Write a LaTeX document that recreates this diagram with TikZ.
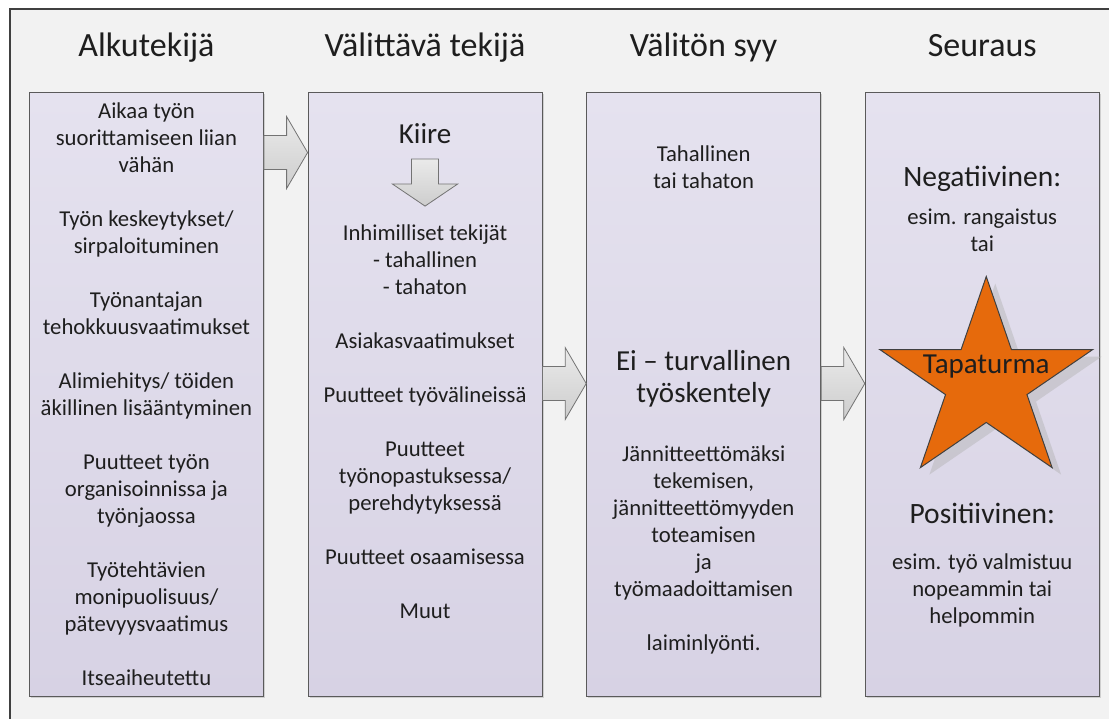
\documentclass[tikz,border=0pt]{standalone}
\usepackage{fontspec}
\setmainfont{Carlito}
\usetikzlibrary{positioning,calc,shadows}
\definecolor{ink}{RGB}{30,30,30}
\definecolor{frameline}{RGB}{64,64,64}
\definecolor{framefill}{RGB}{242,242,242}
\definecolor{paneltop}{RGB}{229,226,239}
\definecolor{panelbot}{RGB}{215,210,228}
\definecolor{panelline}{RGB}{90,90,90}
\definecolor{arrowtop}{RGB}{234,234,234}
\definecolor{arrowbot}{RGB}{205,205,205}
\definecolor{arrowline}{RGB}{115,115,115}
\definecolor{tapa}{RGB}{230,106,12}
\tikzset{
  every picture/.style={x=1pt, y=1pt, color=ink},
  node distance=43.7pt,
  panel/.style={draw=panelline, line width=0.9pt, top color=paneltop, bottom color=panelbot,
    minimum width=234pt, minimum height=604pt, inner sep=0pt,
    drop shadow={shadow xshift=1.5pt, shadow yshift=-1.5pt, opacity=0.3}},
  head/.style={font=\fontsize{34}{40}\selectfont, anchor=base, inner sep=0pt},
  body/.style={font=\fontsize{22.7}{27}\selectfont, align=center, inner sep=0pt},
  big/.style={font=\fontsize{29}{32}\selectfont, align=center, inner sep=0pt},
  sign/.style={font=\fontsize{29.5}{34}\selectfont, inner sep=0pt},
  barrow/.style={draw=arrowline, line width=0.8pt, top color=arrowtop, bottom color=arrowbot, line join=miter},
  starfill/.style={fill=tapa, draw=frameline, line width=1pt, line join=miter},
  starshade/.style={fill=black!30, opacity=0.45},
}
% block arrow pointing right: tail, tip
\newcommand{\rightblock}[2]{%
  \draw[barrow] let \p1=(#1), \p2=(#2) in
    (\x1,\y1+17pt) -- (\x2-21pt,\y1+17pt) -- (\x2-21pt,\y1+36pt) -- (\x2,\y1)
    -- (\x2-21pt,\y1-36pt) -- (\x2-21pt,\y1-17pt) -- (\x1,\y1-17pt) -- cycle;}
% block arrow pointing down: tail, tip
\newcommand{\downblock}[2]{%
  \draw[barrow] let \p1=(#1), \p2=(#2) in
    (\x1-13.5pt,\y1) -- (\x1-13.5pt,\y2+22pt) -- (\x1-32.5pt,\y2+22pt) -- (\x1,\y2)
    -- (\x1+32.5pt,\y2+22pt) -- (\x1+13.5pt,\y2+22pt) -- (\x1+13.5pt,\y1) -- cycle;}
\newcommand{\starpoints}{(90:112 and 105.6) -- (126:42.8 and 40.3) -- (162:112 and 105.6)
  -- (198:42.8 and 40.3) -- (234:112 and 105.6) -- (270:42.8 and 40.3) -- (306:112 and 105.6)
  -- (342:42.8 and 40.3) -- (18:112 and 105.6) -- (54:42.8 and 40.3) -- cycle}

\begin{document}
\begin{tikzpicture}
  \useasboundingbox (0,0) rectangle (1109,718);
  \clip (0,0) rectangle (1109,718);
  \draw[frameline, line width=2pt, fill=framefill] (10,-30) rectangle (1140,709);

  % four columns
  \node[panel, anchor=south west] (alku) at (29,21) {};
  \node[panel, right=of alku] (valit) {};
  \node[panel, right=of valit] (syy) {};
  \node[panel, right=of syy] (seur) {};

  \node[head] (h-alku) at ($(alku.north)+(0,36)$) {Alkutekijä};
  \node[head] (h-valit) at ($(valit.north)+(0,36)$) {Välittävä tekijä};
  \node[head] (h-syy) at ($(syy.north)+(0,36)$) {Välitön syy};
  \node[head] (h-seur) at ($(seur.north)+(0,36)$) {Seuraus};

  % arrows between columns
  \coordinate (a1) at ($(alku.east)+(0,242)$);
  \coordinate (a2) at ($(valit.east)+(0,11)$);
  \coordinate (a3) at ($(syy.east)+(0,11)$);
  \rightblock{a1}{a1 -| valit.west}
  \rightblock{a2}{a2 -| syy.west}
  \rightblock{a3}{a3 -| seur.west}

  \node[body] (alku-txt) at (alku.center) {Aikaa työn\\suorittamiseen liian\\vähän\\[27pt]Työn keskeytykset/\\sirpaloituminen\\[27pt]Työnantajan\\tehokkuusvaatimukset\\[27pt]Alimiehitys/ töiden\\äkillinen lisääntyminen\\[27pt]Puutteet työn\\organisoinnissa ja\\työnjaossa\\[27pt]Työtehtävien\\monipuolisuus/\\pätevyysvaatimus\\[27pt]Itseaiheutettu};

  \node[big] (kiire) at ($(valit.north)+(0,-42)$) {Kiire};
  \coordinate (kiire-tail) at ($(valit.north)+(0,-67)$);
  \coordinate (kiire-tip) at ($(valit.north)+(0,-114)$);
  \downblock{kiire-tail}{kiire-tip}
  \node[body] (valit-txt) at ($(valit.center)+(0,-27)$) {Inhimilliset tekijät\\- tahallinen\\- tahaton\\[27pt]Asiakasvaatimukset\\[27pt]Puutteet työvälineissä\\[27pt]Puutteet\\työnopastuksessa/\\perehdytyksessä\\[27pt]Puutteet osaamisessa\\[27pt]Muut};

  \node[body] (syy-a) at ($(syy.north)+(0,-75.5)$) {Tahallinen\\tai tahaton};
  \node[big] (syy-b) at ($(syy.center)+(0,16)$) {Ei – turvallinen\\työskentely};
  \node[body] (syy-c) at ($(syy.south)+(0,147)$) {Jännitteettömäksi\\tekemisen,\\jännitteettömyyden\\toteamisen\\ja\\työmaadoittamisen\\[27pt]laiminlyönti.};

  \node[sign] (neg) at ($(seur.north)+(0,-87)$) {Negatiivinen:};
  \node[body] (neg-txt) at ($(seur.north)+(0,-138.5)$) {esim. rangaistus\\tai};
  \begin{scope}[shift={($(seur.center)+(4,12.4)$)}]
    \fill[starshade, xshift=9pt, yshift=-7pt] \starpoints;
    \draw[starfill] \starpoints;
  \end{scope}
  \node[big] (tapaturma) at ($(seur.center)+(4,28)$) {Tapaturma};
  \node[sign] (pos) at ($(seur.south)+(0,184)$) {Positiivinen:};
  \node[body] (pos-txt) at ($(seur.south)+(0,107)$) {esim. työ valmistuu\\nopeammin tai\\helpommin};
\end{tikzpicture}
\end{document}
